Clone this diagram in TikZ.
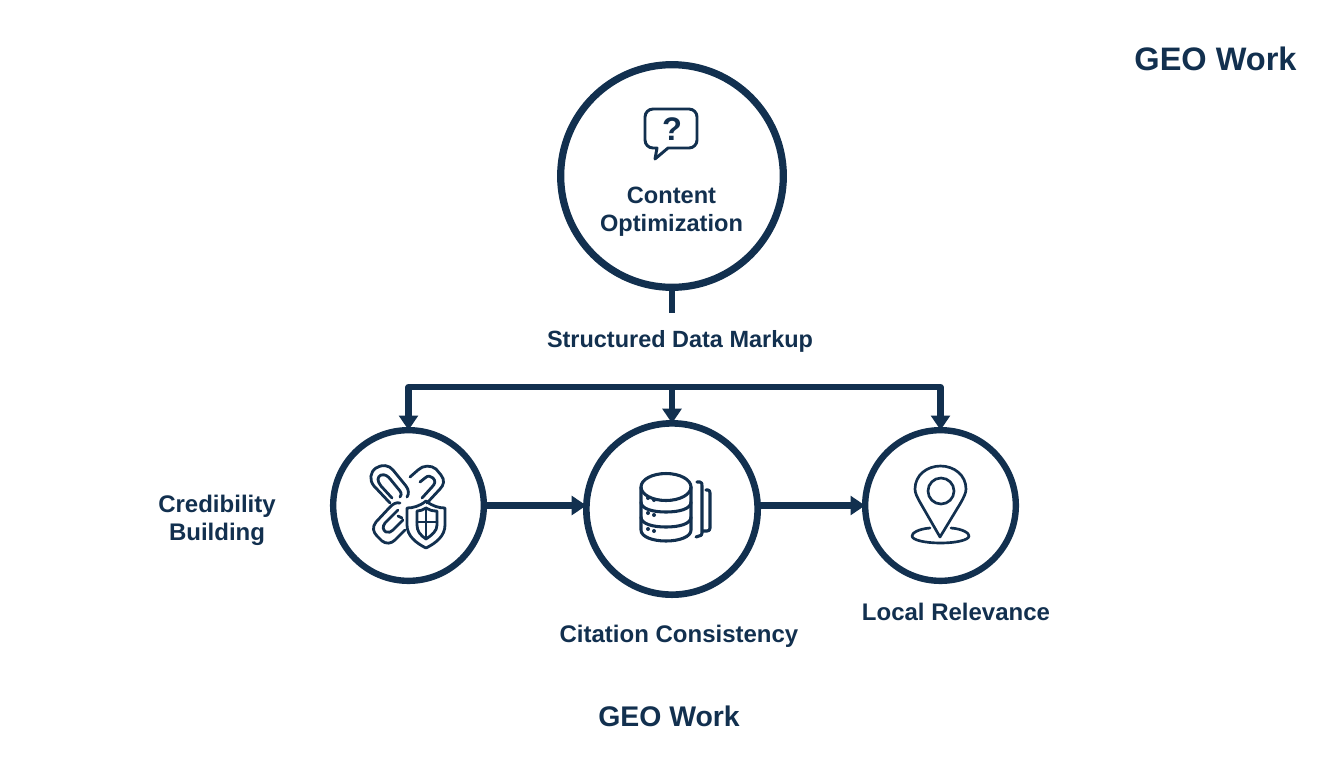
\documentclass[tikz,border=0pt]{standalone}
\usepackage{fontspec}
\setmainfont{Liberation Sans}
\usetikzlibrary{arrows.meta}
\definecolor{navy}{HTML}{12304F}
\tikzset{
  x=0.75pt,y=-0.75pt,
  ring/.style={circle,draw=navy,fill=white,inner sep=0pt,outer sep=0pt,minimum size=#1},
  link/.style={draw=navy,line width=4.8pt,-{Triangle[length=11pt,width=14pt]},line join=miter},
  bus/.style={draw=navy,line width=4.8pt,line cap=butt,line join=round},
  lbl/.style={text=navy,font=\bfseries\fontsize{18}{21}\selectfont,align=center,inner sep=0pt},
  icon/.style={draw=navy,line width=2.1pt,line cap=round,line join=round,fill=none},
}
\begin{document}
\begin{tikzpicture}
\useasboundingbox (0,0) rectangle (1344,768);
\fill[white] (0,0) rectangle (1344,768);
\node[ring=167pt,line width=5.4pt] (top) at (672,176) {};
\node[ring=113pt,line width=4.8pt] (left) at (408.5,505.5) {};
\node[ring=128.5pt,line width=5pt] (mid) at (672,509) {};
\node[ring=113pt,line width=4.8pt] (right) at (940.5,505.5) {};
\coordinate (stub) at (672,312.5);
\coordinate (busl) at (408.5,387);
\coordinate (busm) at (672,387);
\coordinate (busr) at (940.5,387);
\draw[bus] (top.south) -- (stub);
\draw[bus] (busl) ++(0,10) -- (busl) -- (busr) -- ++(0,10);
\draw[link] (busl) -- (left.north);
\draw[link] (busm) -- (mid.north);
\draw[link] (busr) -- (right.north);
\draw[link] (left.east) -- (left.east -| mid.west);
\draw[link] (mid.east |- right.west) -- (right.west);
\node[lbl,font=\bfseries\fontsize{17.7}{21}\selectfont] (t1) at (671.5,212) {Content\\[0pt]Optimization};
\node[lbl,font=\bfseries\fontsize{17.6}{21}\selectfont] (t2) at (680,341) {Structured Data Markup};
\node[lbl] (t3) at (217,520) {Credibility\\[0pt]Building};
\node[lbl] (t4) at (679,636) {Citation Consistency};
\node[lbl] (t5) at (956,612) {Local Relevance};
\node[lbl,font=\bfseries\fontsize{24.4}{28}\selectfont] (t6) at (1215.5,59) {GEO Work};
\node[lbl,font=\bfseries\fontsize{21.3}{25}\selectfont] (t7) at (669,716) {GEO Work};
% speech bubble
\draw[icon,line width=2.2pt] (653,109) -- (689,109) arc[start angle=-90,end angle=0,radius=8] -- (697,140) arc[start angle=0,end angle=90,radius=8] -- (668,148) -- (655,159) -- (657,148) -- (653,148) arc[start angle=90,end angle=180,radius=8] -- (645,117) arc[start angle=180,end angle=270,radius=8] -- cycle;
\node[text=navy,font=\bfseries\fontsize{24.5}{26}\selectfont,inner sep=0pt] (q) at (672,129) {?};
% chain + shield
\begin{scope}[icon]
\draw (390,503) -- (374,486) .. controls (369,480) and (370,472) .. (376,468) .. controls (382,464) and (389,465) .. (393,470) -- (406,486) .. controls (409,490) and (409,494) .. (407,497);
\draw (392,498) -- (381,486) .. controls (377,481) and (377,477) .. (381,475) .. controls (385,474) and (388,476) .. (391,480) -- (400,491) .. controls (402,494) and (401,496) .. (400,497);
\draw (410,477) -- (418,470) .. controls (423,465) and (431,465) .. (436,469) -- (441,475) .. controls (445,480) and (444,485) .. (440,489) -- (427,503);
\draw (420,482) -- (425,478) .. controls (428,475) and (431,476) .. (433,478) .. controls (436,481) and (435,484) .. (432,487) -- (422,498);
\draw (400,503) .. controls (396,502) and (393,504) .. (390,507) -- (376,522) .. controls (372,527) and (373,532) .. (377,536) -- (382,541) .. controls (386,544) and (391,544) .. (395,540) -- (405,530);
\draw (398,510) -- (385,523) .. controls (382,527) and (383,530) .. (386,532) .. controls (389,533) and (391,532) .. (393,530) -- (403,520);
\draw (398,516) -- (402,518);
\draw (426,501) .. controls (432,506) and (439,508) .. (445,508) -- (445,525) .. controls (445,536) and (436,543) .. (426,548) .. controls (416,543) and (407,536) .. (407,525) -- (407,508) .. controls (413,508) and (420,506) .. (426,501) -- cycle;
\draw (417,511) .. controls (420,511) and (423,510) .. (426,508) .. controls (429,510) and (432,511) .. (437,511) -- (437,525) .. controls (437,531) and (432,535) .. (426,539) .. controls (420,535) and (417,531) .. (417,525) -- cycle;
\draw (426,508) -- (426,539) (417,522) -- (437,522);
\end{scope}
% database
\begin{scope}[icon,line width=2.3pt]
\draw (666,487) ellipse[x radius=25,y radius=13.5];
\draw (641,487) -- (641,530) .. controls (641,537) and (653,541) .. (666,541) .. controls (679,541) and (691,537) .. (691,530) -- (691,487);
\draw (641,502) .. controls (641,509) and (653,512) .. (666,512) .. controls (679,512) and (691,509) .. (691,502);
\draw (641,517) .. controls (641,524) and (653,527) .. (666,527) .. controls (679,527) and (691,524) .. (691,517);
\draw (697,482) -- (700,482) .. controls (702,482) and (702,484) .. (702,486) -- (702,533) .. controls (702,535) and (701,536) .. (699,536) -- (696,537);
\draw (706,490) -- (708,490) .. controls (709,490) and (710,491) .. (710,493) -- (710,528) .. controls (710,530) and (709,531) .. (707,531) -- (703,531);
\fill[navy,draw=none] (648,498) circle[radius=2] (654,500) circle[radius=2] (648,513) circle[radius=2] (654,515) circle[radius=2] (648,529) circle[radius=2] (654,531) circle[radius=2];
\end{scope}
% pin
\begin{scope}[icon,line width=2pt]
\draw (940,537) -- (921,504) .. controls (917,497) and (915,493) .. (915,489) .. controls (915,475) and (927,466) .. (940.5,466) .. controls (954,466) and (966,475) .. (966,489) .. controls (966,493) and (964,497) .. (960,504) -- cycle;
\draw (941,491) circle[radius=13];
\draw (930,528) .. controls (918,529) and (912,533) .. (912,536) .. controls (912,540) and (925,543) .. (940.5,543) .. controls (956,543) and (969,540) .. (969,536) .. controls (969,533) and (963,529) .. (951,528);
\end{scope}
\end{tikzpicture}
\end{document}
